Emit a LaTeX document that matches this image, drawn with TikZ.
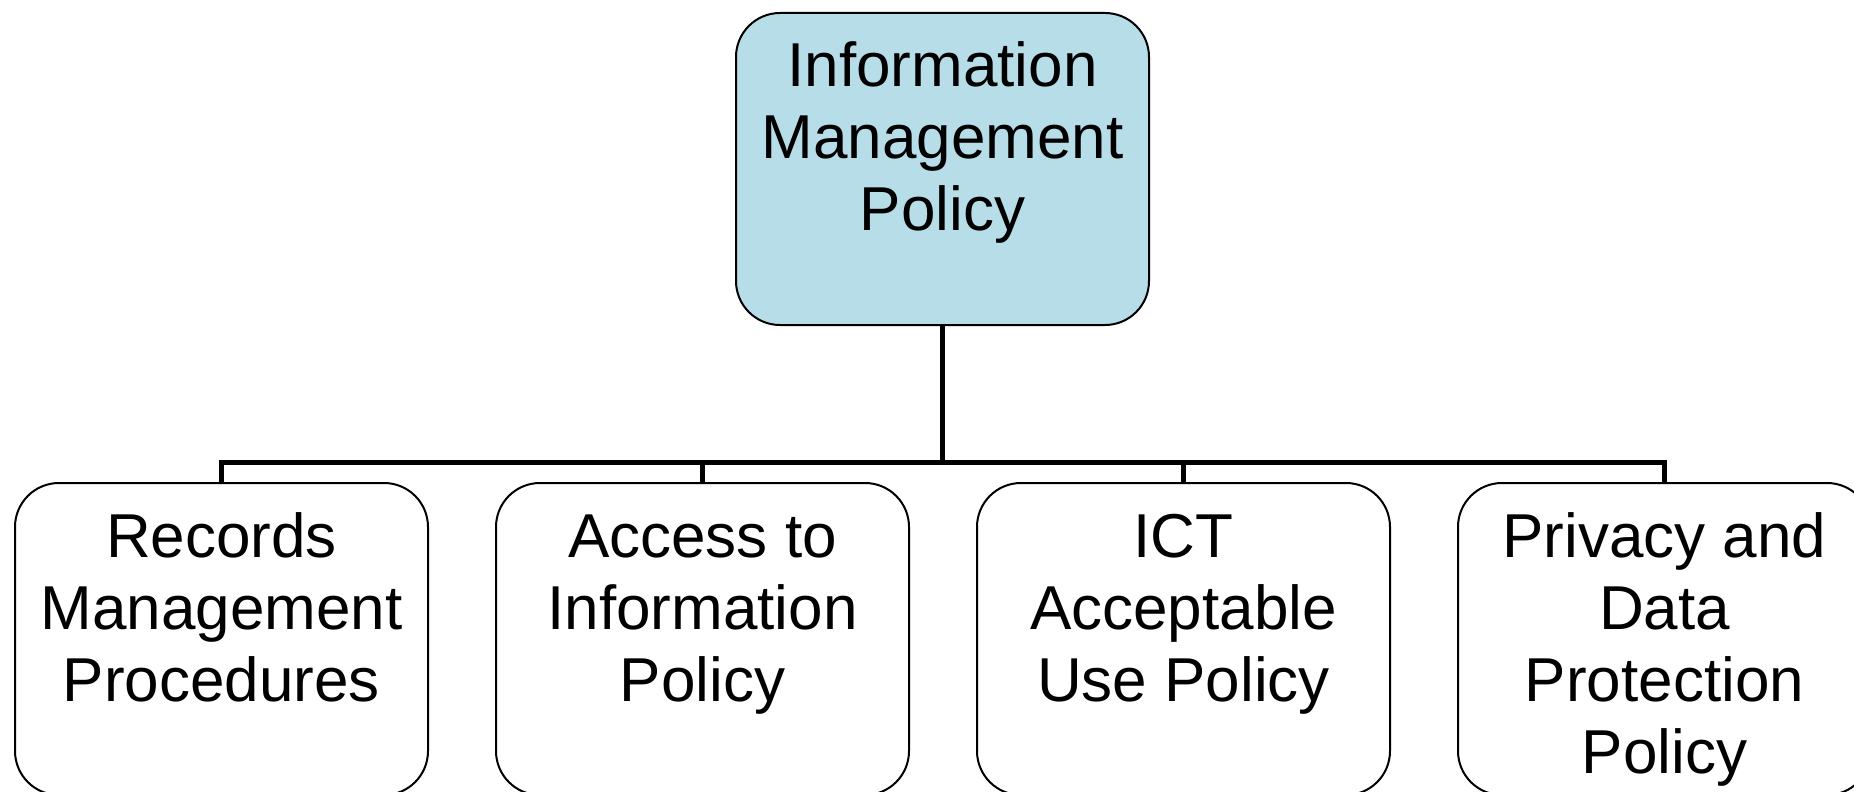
\documentclass[tikz,border=0pt]{standalone}
\usepackage{fontspec}
\setmainfont{Liberation Sans}
\usepackage{tikz}
\usetikzlibrary{positioning}

\definecolor{headblue}{HTML}{B7DEE8}
\newcommand{\celltext}[1]{\parbox[c][156pt][t]{206.5pt}{\centering\rule{0pt}{37pt}#1}}

\tikzset{
  policybox/.style={draw, rounded corners=22pt, line width=1pt, inner sep=0pt,
    font=\fontsize{31pt}{36pt}\selectfont},
  headbox/.style={policybox, fill=headblue},
  conn/.style={line width=2.5pt}
}

\begin{document}
\begin{tikzpicture}[x=0.5pt, y=-0.5pt]
            \useasboundingbox (0,0) rectangle (1854,792);

            % Nodes
            \node[headbox] (imp) at (942.5, 169) {\celltext{Information\\Management\\Policy}};
            \node[policybox] (rec) at (221.5, 639) {\celltext{Records\\Management\\Procedures}};
            \node[policybox] (acc) at (702.5, 639) {\celltext{Access to\\Information\\Policy}};
            \node[policybox] (ict) at (1183.5, 639) {\celltext{ICT\\Acceptable\\Use Policy}};
            \node[policybox] (priv) at (1664.5, 639) {\celltext{Privacy and\\Data\\Protection\\Policy}};
            \coordinate (bar) at (942.5, 462);

            % Edges
            \draw[conn] (imp.south) -- (bar);
            \draw[conn] (bar) -| (rec.north);
            \draw[conn] (bar) -| (acc.north);
            \draw[conn] (bar) -| (ict.north);
            \draw[conn] (bar) -| (priv.north);
        \end{tikzpicture}
\end{document}
